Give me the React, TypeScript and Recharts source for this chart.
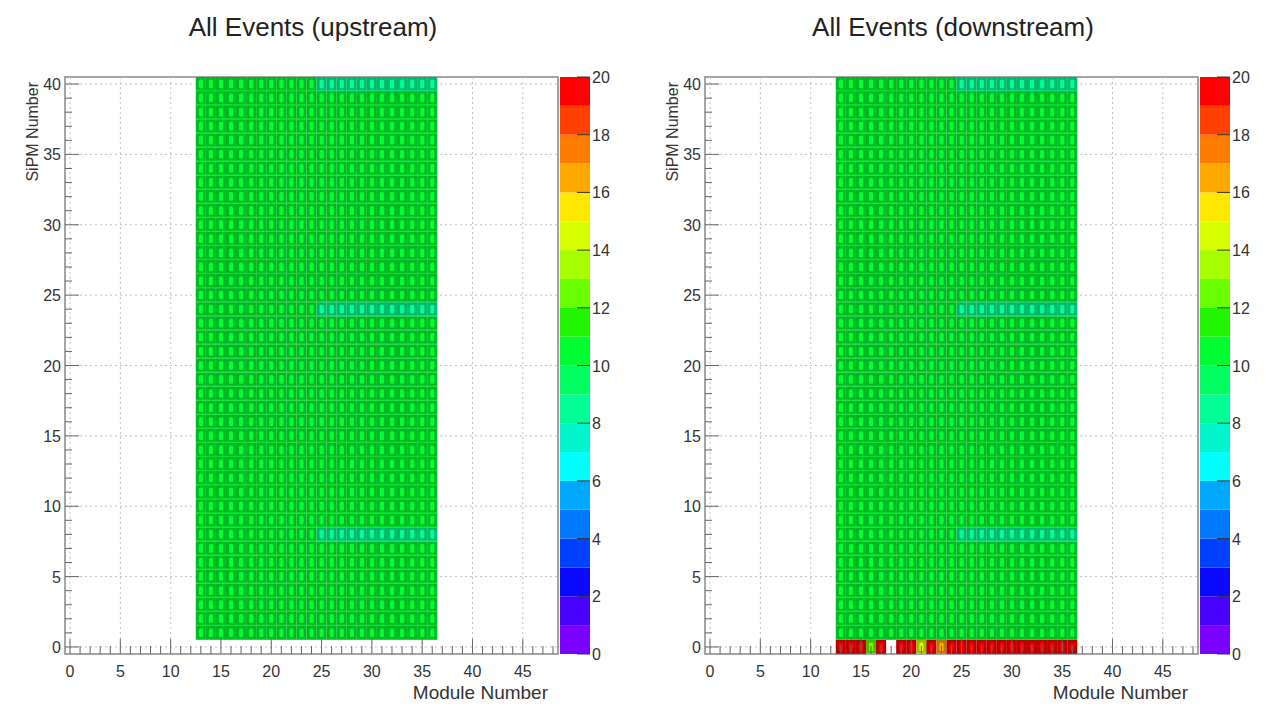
import { Bar, BarChart, ReferenceArea, ReferenceLine, Scatter, ScatterChart, XAxis, YAxis } from "recharts"

// histogram content (module x SiPM)
const moduleNumbers = [13, 14, 15, 16, 17, 18, 19, 20, 21, 22, 23, 24, 25, 26, 27, 28, 29, 30, 31, 32, 33, 34, 35, 36]
const sipmNumbers = [0, 1, 2, 3, 4, 5, 6, 7, 8, 9, 10, 11, 12, 13, 14, 15, 16, 17, 18, 19, 20, 21, 22, 23, 24, 25, 26, 27, 28, 29, 30, 31, 32, 33, 34, 35, 36, 37, 38, 39, 40]
const typicalCount = 10.4
const dimRows = [8, 24, 40]
const dimModules = [25, 26, 27, 28, 29, 30, 31, 32, 33, 34, 35, 36]
const dimCount = 8.3
const upstreamRow0: number[] = []
const downstreamRow0 = [19.6, 19.6, 19.6, 12.4, 19.6, 0, 19.6, 19.6, 14.5, 19.6, 16.8, 19.6, 19.6, 19.6, 19.6, 19.6, 19.6, 19.6, 19.6, 19.6, 19.6, 19.6, 19.6, 19.6]

const xTickLabels = [0, 5, 10, 15, 20, 25, 30, 35, 40, 45]
const yTickLabels = [0, 5, 10, 15, 20, 25, 30, 35, 40]
const zTickLabels = [0, 2, 4, 6, 8, 10, 12, 14, 16, 18, 20]
const xAllTicks = Array.from({ length: 49 }, (_, i) => i)
const yAllTicks = Array.from({ length: 41 }, (_, i) => i)

// ROOT-like rainbow palette, 20 levels from 0 to 20
const palette = [
  "#7a00ff", "#4800ff", "#0a0aff", "#0040ff", "#0078ff", "#00a8ff", "#00ffff", "#00f5cc",
  "#00ff95", "#00ff60", "#00ff30", "#22f500", "#6aff00", "#a5ff00", "#d8ff00", "#ffe800",
  "#ffa800", "#ff7c00", "#ff4000", "#ff0000",
]

const FONT = "'Liberation Sans', Arial, Helvetica, sans-serif"
const PLOT_W = 493
const PLOT_H = 577
const CELL_W = PLOT_W / 49
const CELL_H = PLOT_H / 41

const shade = (hex: string, f: number) => {
  const n = parseInt(hex.slice(1), 16)
  const r = Math.round(((n >> 16) & 255) * f)
  const g = Math.round(((n >> 8) & 255) * f)
  const b = Math.round((n & 255) * f)
  return `rgb(${r},${g},${b})`
}

const buildCells = (row0: number[]) => {
  const cells: { module: number; sipm: number; count: number }[] = []
  for (const s of sipmNumbers) {
    moduleNumbers.forEach((m, i) => {
      let v = typicalCount
      if (s === 0) v = row0[i] ?? 0
      else if (dimRows.includes(s) && dimModules.includes(m)) v = dimCount
      if (v > 0) cells.push({ module: m, sipm: s, count: v })
    })
  }
  return cells
}

const CellShape = (props: any) => {
  const { cx, cy, payload } = props
  const c = palette[Math.min(19, Math.floor(payload.count))]
  return (
    <g>
      <rect x={cx - CELL_W / 2} y={cy - CELL_H / 2} width={CELL_W} height={CELL_H} fill={shade(c, 0.72)} />
      <rect x={cx - CELL_W / 2} y={cy + CELL_H / 2 - 1.2} width={CELL_W} height={1.2} fill={c} opacity={0.6} />
      <rect x={cx - CELL_W * 0.2} y={cy - CELL_H * 0.32} width={CELL_W * 0.42} height={CELL_H * 0.62} rx={1.5} fill={c} />
    </g>
  )
}

const XTick = ({ x, y, payload }: any) => {
  const major = xTickLabels.includes(payload.value)
  return (
    <g>
      <line x1={x} x2={x} y1={y} y2={y - (major ? 15 : 8)} stroke="#666" />
      {major && (
        <text x={x} y={y + 23} textAnchor="middle" fontSize={16} fontFamily={FONT} fill="#333">
          {payload.value}
        </text>
      )}
    </g>
  )
}

const YTick = ({ x, y, payload }: any) => {
  const major = yTickLabels.includes(payload.value)
  return (
    <g>
      <line x1={x} x2={x + (major ? 14 : 7)} y1={y} y2={y} stroke="#666" />
      {major && (
        <text x={x - 4} y={y + 6} textAnchor="end" fontSize={16} fontFamily={FONT} fill="#333">
          {payload.value}
        </text>
      )}
    </g>
  )
}

const ZTick = ({ x, y, payload }: any) => (
  <g>
    <line x1={x} x2={x - 13} y1={y} y2={y} stroke="#333" />
    <text x={x + 2} y={y + 6} textAnchor="start" fontSize={16} fontFamily={FONT} fill="#333">
      {payload.value}
    </text>
  </g>
)

const colorBarRow: Record<string, any> = { name: "z" }
palette.forEach((_, i) => (colorBarRow["b" + i] = 1))
const colorBarData = [colorBarRow]

const Panel = ({ left, row0, title }: { left: number; row0: number[]; title: string }) => (
  <>
    <div style={{ position: "absolute", left, top: 0 }}>
      <ScatterChart width={620} height={706} margin={{ top: 77, right: 62, bottom: 0, left: 5 }}>
        <XAxis type="number" dataKey="module" domain={[-0.5, 48.5]} ticks={xAllTicks} interval={0}
          tickSize={0} tickMargin={0} tickLine={false} axisLine={false} tick={<XTick />} height={52} allowDataOverflow />
        <YAxis type="number" dataKey="sipm" domain={[-0.5, 40.5]} ticks={yAllTicks} interval={0}
          tickSize={0} tickMargin={0} tickLine={false} axisLine={false} tick={<YTick />} width={60} allowDataOverflow />
        {xTickLabels.map((v) => (
          <ReferenceLine key={"gx" + v} x={v} stroke="#c0c0c0" strokeDasharray="2 3" />
        ))}
        {yTickLabels.map((v) => (
          <ReferenceLine key={"gy" + v} y={v} stroke="#c0c0c0" strokeDasharray="2 3" />
        ))}
        <Scatter data={buildCells(row0)} shape={<CellShape />} isAnimationActive={false} />
        <ReferenceArea x1={-0.5} x2={48.5} y1={-0.5} y2={40.5} fill="none" stroke="#888" strokeWidth={1.5} />
      </ScatterChart>
    </div>
    <div style={{ position: "absolute", left: left + 555, top: 0 }}>
      <BarChart width={70} height={706} data={colorBarData} barCategoryGap={0} margin={{ top: 77, right: 0, bottom: 52, left: 5 }}>
        <XAxis dataKey="name" hide />
        <YAxis orientation="right" type="number" domain={[0, 20]} ticks={zTickLabels} interval={0}
          tickSize={0} tickMargin={0} tickLine={false} axisLine={false} tick={<ZTick />} width={35} />
        {palette.map((c, i) => (
          <Bar key={i} dataKey={"b" + i} stackId="z" fill={c} isAnimationActive={false} />
        ))}
      </BarChart>
    </div>
    <div style={{ position: "absolute", left, top: 12, width: 626, textAlign: "center", fontFamily: FONT, fontSize: 26, color: "#222" }}>
      {title}
    </div>
    <div style={{ position: "absolute", left: left + 300, top: 682, width: 248, textAlign: "right", fontFamily: FONT, fontSize: 19, color: "#333" }}>
      Module Number
    </div>
    <div style={{ position: "absolute", left: left + 24, top: 82, width: 110, height: 18, fontFamily: FONT, fontSize: 16, color: "#333",
      transform: "rotate(-90deg)", transformOrigin: "0 0", translate: "0 110px", textAlign: "right", whiteSpace: "nowrap" }}>
      SiPM Number
    </div>
  </>
)

export default function App() {
  return (
    <div style={{ position: "fixed", left: 0, top: 0, width: 1271, height: 706, background: "#fff", overflow: "hidden" }}>
      <Panel left={0} row0={upstreamRow0} title="All Events (upstream)" />
      <Panel left={640} row0={downstreamRow0} title="All Events (downstream)" />
    </div>
  )
}
